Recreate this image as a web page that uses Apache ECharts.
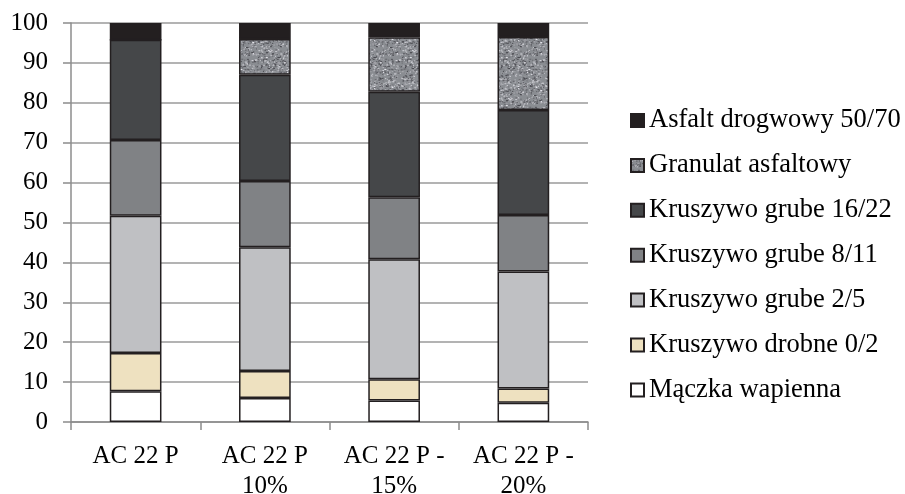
<!DOCTYPE html>
<html>
<head>
<meta charset="utf-8">
<script src="https://cdn.jsdelivr.net/npm/echarts@6/dist/echarts.min.js"></script>
<style>
  html, body { margin: 0; padding: 0; background: #fff; }
  #chart { width: 905px; height: 494px; }
</style>
</head>
<body>
<div id="chart"></div>
<script>
// Mix compositions (% by mass) for each asphalt concrete variant
const categories = ['AC 22 P', 'AC 22 P\n10%', 'AC 22 P -\n15%', 'AC 22 P -\n20%'];
const maczka      = [7.7, 6.0, 5.4, 4.8];
const drobne02    = [9.6, 6.8, 5.3, 3.6];
const grube25     = [34.4, 31.0, 30.1, 29.3];
const grube811    = [19.0, 16.6, 15.5, 14.2];
const grube1622   = [25.1, 26.6, 26.5, 26.3];
const granulat    = [0, 9.0, 13.6, 18.3];
const asfalt      = [4.2, 4.0, 3.6, 3.5];
const yTicks      = [0, 10, 20, 30, 40, 50, 60, 70, 80, 90, 100];

const FONT = "'Liberation Serif', 'Times New Roman', serif";

// Speckled grey texture for reclaimed asphalt granulate
function granulatePattern() {
  const c = document.createElement('canvas');
  c.width = 48; c.height = 48;
  const g = c.getContext('2d');
  g.fillStyle = '#8a8d92';
  g.fillRect(0, 0, 48, 48);
  let s = 12345;
  const next = () => { s = (s * 1103515245 + 12345) & 0x7fffffff; return s / 0x7fffffff; };
  for (let i = 0; i < 700; i++) {
    const x = next() * 48, y = next() * 48, v = next();
    const shade = v < 0.5 ? Math.round(70 + v * 60) : Math.round(150 + (v - 0.5) * 160);
    g.fillStyle = 'rgb(' + shade + ',' + shade + ',' + (shade + 6) + ')';
    g.fillRect(x, y, 1 + (next() < 0.3 ? 1 : 0), 1);
  }
  return c;
}

const border = { borderColor: '#231f20', borderWidth: 1.5 };

function bar(name, data, color) {
  return {
    name, type: 'bar', stack: 'mix', data,
    barWidth: '40%',
    itemStyle: Object.assign({ color }, border),
    emphasis: { disabled: true }
  };
}

const series = [
  bar('Mączka wapienna', maczka, '#ffffff'),
  bar('Kruszywo drobne 0/2', drobne02, '#eee1c0'),
  bar('Kruszywo grube 2/5', grube25, '#bfc0c3'),
  bar('Kruszywo grube 8/11', grube811, '#808285'),
  bar('Kruszywo grube 16/22', grube1622, '#454749'),
  bar('Granulat asfaltowy', granulat, { image: granulatePattern(), repeat: 'repeat' }),
  bar('Asfalt drogwowy 50/70', asfalt, '#231f20')
];

const chart = echarts.init(document.getElementById('chart'), null, { renderer: 'canvas' });
chart.setOption({
  animation: false,
  backgroundColor: '#ffffff',
  grid: { left: 71, right: 317, top: 23, bottom: 72, containLabel: false, outerBoundsMode: 'none' },
  legend: {
    orient: 'vertical',
    left: 630, top: 107,
    padding: 0,
    itemWidth: 13, itemHeight: 13,
    itemGap: 17.9,
    icon: 'rect',
    data: series.map(s => s.name).reverse(),
    textStyle: { fontFamily: FONT, fontSize: 26.5, color: '#000', lineHeight: 26 },
    selectedMode: false
  },
  xAxis: {
    type: 'category',
    data: categories,
    axisLine: { lineStyle: { color: '#8c8c8c', width: 1.5 } },
    axisTick: { show: true, interval: 0, length: 8, lineStyle: { color: '#8c8c8c', width: 1.5 } },
    axisLabel: { interval: 0, fontFamily: FONT, fontSize: 25, color: '#000', lineHeight: 30, margin: 19 }
  },
  yAxis: {
    type: 'value',
    min: yTicks[0], max: yTicks[yTicks.length - 1], interval: 10,
    axisLine: { show: true, lineStyle: { color: '#8c8c8c', width: 1.5 } },
    axisTick: { show: true, length: 8, lineStyle: { color: '#8c8c8c', width: 1.5 } },
    splitLine: { lineStyle: { color: '#9a9a9a', width: 1.5 } },
    axisLabel: { fontFamily: FONT, fontSize: 25, color: '#000', margin: 23 }
  },
  series
});
</script>
</body>
</html>
